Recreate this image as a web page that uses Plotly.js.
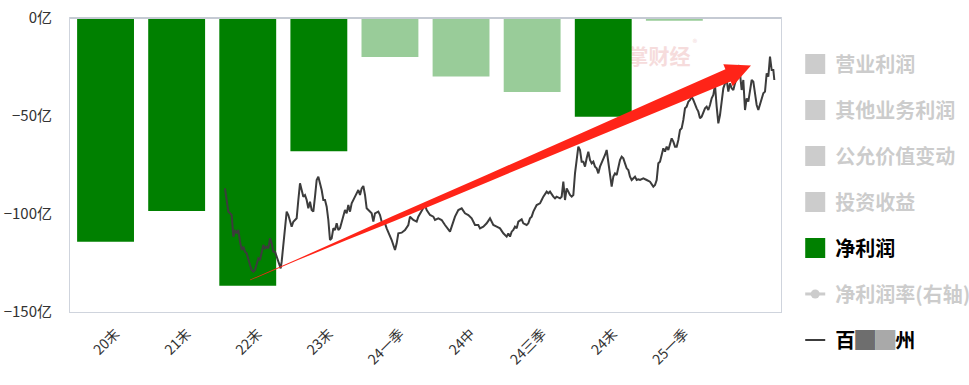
<!DOCTYPE html>
<html>
<head>
<meta charset="utf-8">
<script src="https://cdn.plot.ly/plotly-3.0.1.min.js"></script>
<style>
  html, body { margin: 0; padding: 0; background: #fff; }
  #chart { width: 969px; height: 385px; }
</style>
</head>
<body>
<div id="chart"></div>
<script>
// ---- data ----
const categories = ['20末', '21末', '22末', '23末', '24一季', '24中', '24三季', '24末', '25一季'];
const netProfit = [-114.1, -98.5, -136.6, -68.0, -19.9, -29.8, -37.8, -50.4, -1.4];   // 亿
const isAnnual = [true, true, true, true, false, false, false, true, false];
const yTickVals = [-150, -100, -50, 0];
const yTickText = ['\u2212150亿', '\u2212100亿', '\u221250亿', '0亿'];

const legendNames = ['营业利润', '其他业务利润', '公允价值变动', '投资收益', '净利润', '净利润率(右轴)'];
const stockName = '百<span style="color:#6e6e6e">█</span><span style="color:#a9a9a9">█</span>州';

// stock price (hidden right scale), sampled trading-day index vs scaled price
const tradeDay = [0,5,10,15,20,25,30,35,40,45,50,55,60,65,70,75,80,85,90,95,100,105,110,115,120,125,130,135,140,145,150,155,160,167,170,175,180,185,190,195,200,205,210,215,220,225,230,235,240,245,250,255,260,265,270,275,280,285,290,295,300,305,310,315,320,325,330,335,340,345,350,355,360,365,370,375,380,
390,400,405,410,415,420,425,435,440,445,450,460,465,470,480,485,490,495,500,505,510,515,520,530,540,550,555,565,575,580,590,600,605,615,625,630,640,650,660,670,675,680,690,700,710,720,730,740,750,760,765,775,785,795,805,815,825,835,
845,850,855,860,865,870,875,880,890,895,905,910,915,920,925,935,945,950,955,965,970,975,980,985,990,995,1005,1010,1015,1020,1025,1030,1035,1040,1045,1050,1055,1060,1065,1070,1075,1080,1085,1090,1095,1100,1105,1110,1115,1120,1125,1130,1135,1140,1145,1150,1155,1160,1165,1170,1175,1180,1185,1190,1195,1200,1205,1210,1215,1220,1225,1230,1235,1240,1245,
1255,1265,1275,1285,1290,1295,1300,1305,1310,1315,1320,1325,1330,1335,1340,1345,1350,1355,1360,1365,1370,1375,1380,1385,1390,1395,1400,1405,1410,1415,1420,1425,1430,1435,1440,1445,1450,1455,1460,1465,1470,1475,1480,1485,1490,1495,1500,1505,1510,1515,1520,1525,1530,1535,1540,1545,1550,1555,1560,1565,1570,1575,1580,1585,1590,1595,1600,1605,1610,1615,1620,1625,1630,1635,1640,1645,1648];
const sharePrice = [3.71,3.36,3.01,2.96,2.91,2.26,2.46,2.36,2.46,2.11,1.86,1.96,1.81,1.76,1.56,1.41,1.26,1.21,1.26,1.46,1.61,1.56,1.81,2.01,1.91,1.96,1.91,2.21,2.06,1.81,1.81,1.66,1.56,1.31,1.51,2.06,2.51,3.01,2.91,2.76,2.56,2.71,2.76,2.81,3.36,3.86,3.66,3.46,3.51,3.36,3.11,3.31,3.06,3.01,3.46,3.96,4.06,3.86,3.66,3.36,3.36,3.16,2.76,2.16,2.21,2.51,2.46,2.66,2.46,2.51,2.71,2.86,3.06,2.96,3.21,3.01,3.26,
3.46,3.66,3.51,3.71,3.78,3.51,3.11,3.01,2.96,2.71,2.96,3.01,2.91,2.71,2.66,2.51,2.41,2.26,2.16,2.01,1.86,2.06,2.36,2.38,2.46,2.61,2.86,2.76,2.71,2.86,3.06,3.21,3.06,2.91,2.86,2.76,2.81,2.76,2.61,2.46,2.41,2.56,2.86,3.06,3.11,2.96,2.91,2.81,2.61,2.61,2.51,2.56,2.66,2.81,2.61,2.56,2.51,2.36,
2.26,2.36,2.26,2.41,2.46,2.56,2.51,2.71,2.78,2.66,2.61,2.66,2.81,2.86,3.01,3.21,3.26,3.36,3.46,3.61,3.56,3.61,3.51,3.46,3.41,3.46,3.41,3.46,3.91,3.36,3.71,3.61,3.51,3.46,3.51,4.16,4.66,4.96,4.86,4.51,4.51,4.36,4.61,4.81,4.56,4.46,4.51,4.36,4.31,4.16,4.36,4.46,4.56,4.71,4.86,4.46,4.06,3.76,4.06,4.16,4.11,4.36,4.56,4.66,4.61,4.46,4.31,4.26,4.06,3.96,4.01,4.06,3.96,3.98,3.96,
4.01,3.96,3.91,3.76,3.81,3.96,4.46,4.51,4.71,4.91,4.81,4.96,4.86,5.06,5.21,5.11,4.96,4.96,5.16,5.46,5.51,5.76,6.11,6.16,6.31,6.36,6.46,6.36,6.21,6.11,6.01,5.81,5.86,6.01,6.11,6.16,6.06,6.21,6.41,6.51,6.81,6.16,5.66,5.91,6.36,6.71,6.86,6.96,6.61,6.86,6.71,6.66,6.86,7.01,7.41,7.16,6.66,6.96,6.06,6.41,6.31,6.71,6.96,6.91,6.46,6.21,6.06,6.21,6.36,6.56,6.61,7.16,7.06,7.66,7.26,7.26,6.96];

// ---- plot geometry ----
const W = 969, H = 385;
const M = { l: 70, r: 188, t: 18, b: 73, autoexpand: false };
const PW = W - M.l - M.r, PH = H - M.t - M.b;
const toPaper = (px, py) => [(px - M.l) / PW, (M.t + PH - py) / PH];

// hand-drawn tapered red arrow (annotation)
function arrowPath() {
  const s = [250, 280], tip = [751, 65.5];
  const dx = tip[0] - s[0], dy = tip[1] - s[1];
  const L = Math.hypot(dx, dy);
  const u = [dx / L, dy / L], n = [-u[1], u[0]];
  const headLen = 25, headHalf = 12;
  const base = [tip[0] - headLen * u[0], tip[1] - headLen * u[1]];
  const prof = [[0, 0.3], [0.1, 0.6], [0.2, 1.4], [0.3, 2.6], [0.5, 3.5], [0.7, 4.7], [0.85, 5.8], [1, 6.6]];
  const top = [], bot = [];
  prof.forEach(([t, w]) => {
    const c = [s[0] + t * (base[0] - s[0]), s[1] + t * (base[1] - s[1])];
    top.push([c[0] - w * n[0], c[1] - w * n[1]]);
    bot.push([c[0] + w * n[0], c[1] + w * n[1]]);
  });
  const pts = [...top,
    [base[0] - headHalf * n[0], base[1] - headHalf * n[1]],
    tip,
    [base[0] + headHalf * n[0], base[1] + headHalf * n[1]],
    ...bot.reverse()];
  return 'M' + pts.map(p => toPaper(p[0], p[1]).map(v => v.toFixed(5)).join(',')).join('L') + 'Z';
}

const FONT = '"Noto Sans CJK SC", "Microsoft YaHei", sans-serif';
const GREY_LEG = '#9a9a9a';

const traces = [];
// net profit bars
traces.push({
  type: 'bar', x: categories, y: netProfit, name: '净利润',
  marker: { color: isAnnual.map(a => a ? '#008000' : '#99cc99') },
  legendgroup: 'np', showlegend: false, hoverinfo: 'x+y'
});
// stock price line
traces.push({
  type: 'scatter', mode: 'lines', x: tradeDay, y: sharePrice,
  xaxis: 'x2', yaxis: 'y2', name: stockName,
  line: { color: '#3c3c3c', width: 2 }, legendgroup: 'stk', legendrank: 7
});
// legend entries
legendNames.forEach((nm, i) => {
  if (i === 4) {
    traces.push({
      type: 'scatter', mode: 'markers', x: [null], y: [null], name: nm,
      marker: { symbol: 'square', size: 16, color: '#008000', line: { color: '#008000', width: 4 } },
      legendgroup: 'np', legendrank: i + 1
    });
  } else if (i === 5) {
    traces.push({
      type: 'scatter', mode: 'lines+markers', x: [null], y: [null],
      name: '<span style="color:' + GREY_LEG + '">' + nm + '</span>',
      line: { color: GREY_LEG, width: 3 }, marker: { symbol: 'circle', size: 9, color: GREY_LEG },
      visible: 'legendonly', legendgroup: 'g' + i, legendrank: i + 1
    });
  } else {
    traces.push({
      type: 'scatter', mode: 'markers', x: [null], y: [null],
      name: '<span style="color:' + GREY_LEG + '">' + nm + '</span>',
      marker: { symbol: 'square', size: 16, color: GREY_LEG, line: { color: GREY_LEG, width: 4 } },
      visible: 'legendonly', legendgroup: 'g' + i, legendrank: i + 1
    });
  }
});

const wmC = toPaper(659, 58), wmR = toPaper(695, 43);
const layout = {
  width: W, height: H,
  margin: M,
  paper_bgcolor: '#ffffff', plot_bgcolor: '#ffffff',
  font: { family: FONT, color: '#333333', size: 14 },
  bargap: 0.2,
  xaxis: {
    type: 'category', range: [-0.5, 9.5], tickangle: -45,
    showgrid: false, zeroline: false, showline: true, mirror: true,
    linecolor: '#cfd4dd', linewidth: 1, ticks: '',
    ticklabelshift: 10, ticklabelstandoff: 7,
    tickfont: { size: 14, color: '#333333', family: FONT }
  },
  yaxis: {
    range: [-150, 0], tickvals: yTickVals, ticktext: yTickText,
    showgrid: false, zeroline: false, showline: true, mirror: true,
    linecolor: '#cfd4dd', linewidth: 1, ticks: '', ticklabelstandoff: 14,
    tickfont: { size: 15, color: '#333333', family: FONT }
  },
  xaxis2: { overlaying: 'x', range: [-465, 1668], visible: false },
  yaxis2: { overlaying: 'y', range: [0, 8.82], visible: false },
  showlegend: true,
  legend: {
    x: 1.02, xanchor: 'left', y: 0.91, yanchor: 'top',
    traceorder: 'grouped', tracegroupgap: 17, maxheight: 400,
    bgcolor: 'rgba(0,0,0,0)',
    font: { family: FONT, size: 20, color: '#000000', weight: 'bold' },
    itemwidth: 30
  },
  shapes: [
    { type: 'line', xref: 'paper', yref: 'paper', x0: 0, x1: 1, y0: 1, y1: 1,
      line: { color: '#c5cad3', width: 2 }, layer: 'above' },
    { type: 'rect', xref: 'paper', yref: 'paper', layer: 'below',
      x0: wmC[0] - 0.06, x1: wmC[0] + 0.06, y0: wmC[1] - 0.05, y1: wmC[1] + 0.05,
      line: { width: 0 }, fillcolor: 'rgba(0,0,0,0)',
      label: { text: '掌财经', textposition: 'middle center',
               font: { family: FONT, size: 21, color: '#f6dcdc', weight: 'bold' } } },
    { type: 'rect', xref: 'paper', yref: 'paper', layer: 'below',
      x0: wmR[0] - 0.01, x1: wmR[0] + 0.01, y0: wmR[1] - 0.02, y1: wmR[1] + 0.02,
      line: { width: 0 }, fillcolor: 'rgba(0,0,0,0)',
      label: { text: '®', textposition: 'middle center',
               font: { family: FONT, size: 9, color: '#f3d8d8' } } },
    { type: 'path', xref: 'paper', yref: 'paper', path: arrowPath(),
      fillcolor: '#ff2418', line: { width: 0 }, layer: 'above' }
  ]
};

Plotly.newPlot('chart', traces, layout, { displayModeBar: false, staticPlot: true }).then(gd => {
  // shorten legend line symbols to 20px, centred on the marker position
  gd.querySelectorAll('.legend .legendlines path').forEach(p => p.setAttribute('d', 'M10,0h20'));
});
</script>
</body>
</html>
